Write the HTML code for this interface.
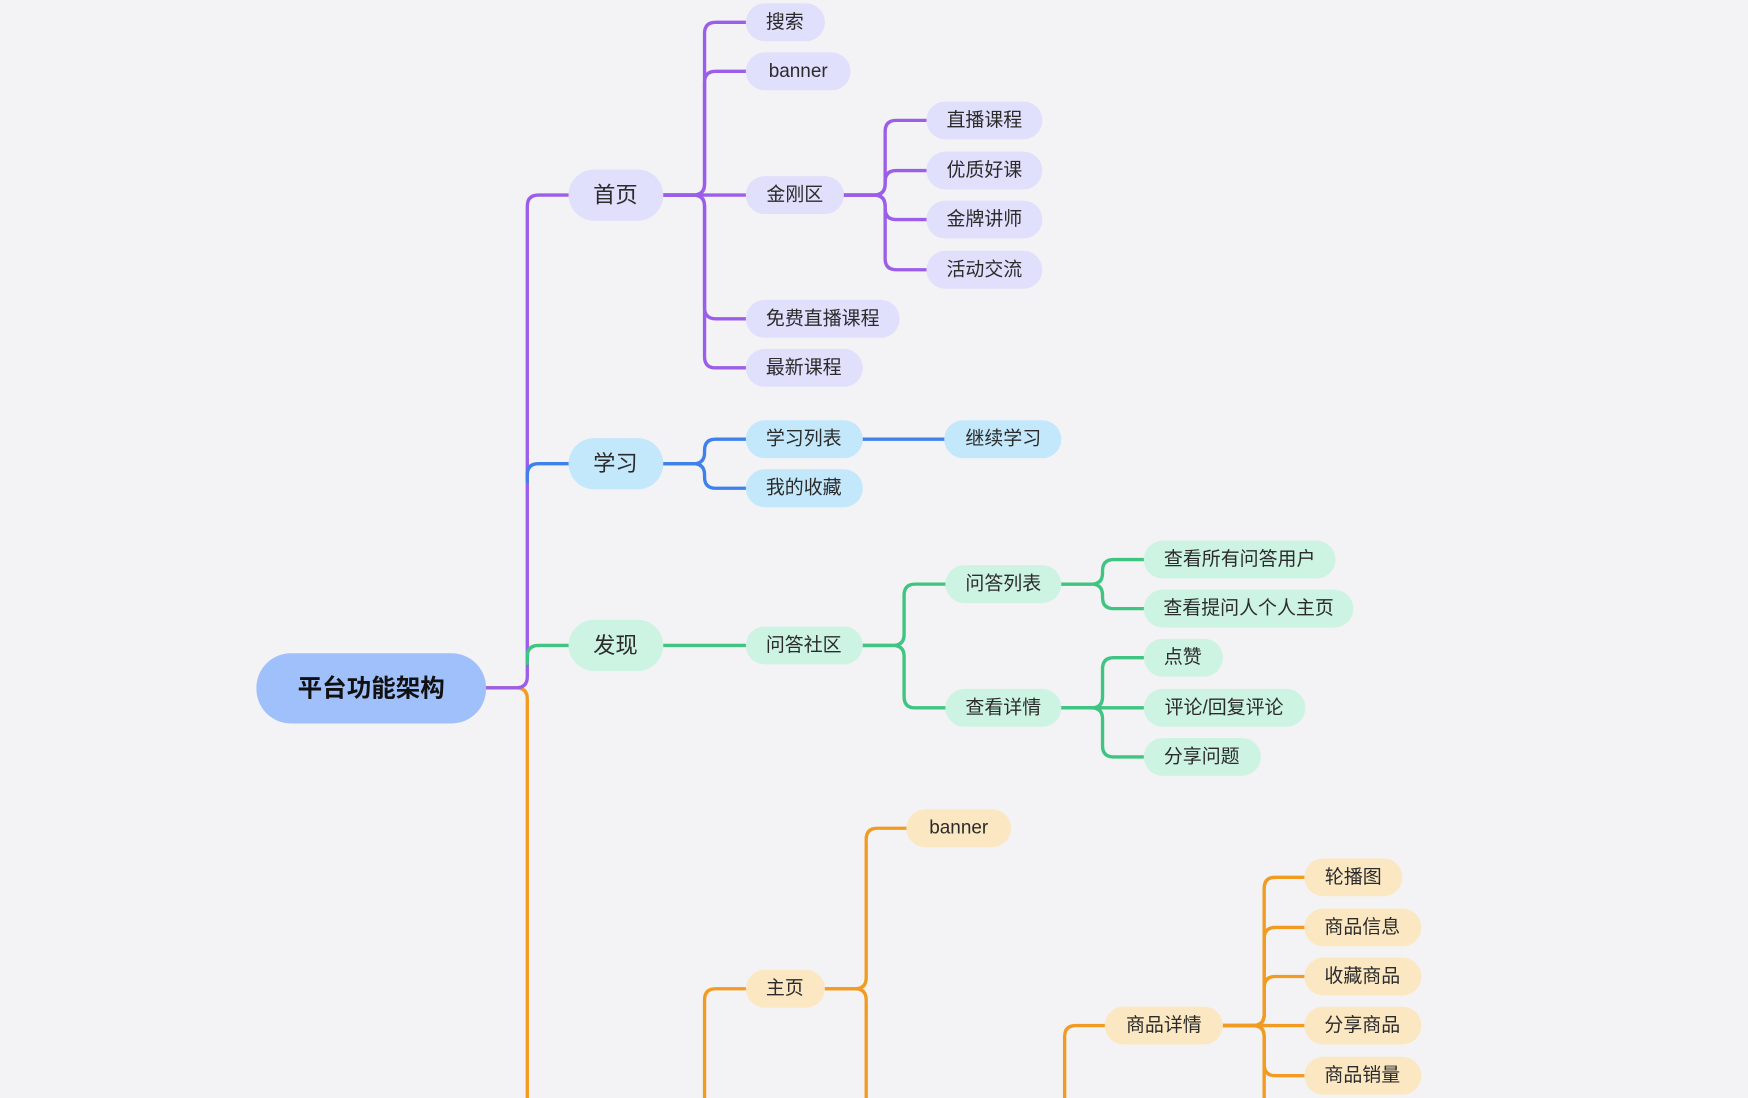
<!DOCTYPE html>
<html><head><meta charset="utf-8"><style>
html,body{margin:0;padding:0;background:#f3f3f5;width:1748px;height:1098px;overflow:hidden}
svg{display:block}
text{font-family:"Liberation Sans","Noto Sans CJK SC",sans-serif;fill:#2b2b2b;dominant-baseline:central;text-anchor:middle}
.l2{font-size:17px}
.l1{font-size:20px}
path{fill:none;stroke-width:3;stroke-linecap:round}
.p{stroke:#9b5ee8}.b{stroke:#3f80ea}.g{stroke:#3fc482}.o{stroke:#f29b22}
</style></head><body>
<svg width="1748" height="1098" viewBox="0 0 1568 985" preserveAspectRatio="none">
<!-- connectors -->
<path class="o" d="M436 617 H463 Q473 617 473 627 V985"/>
<path class="p" d="M436 617 H463 Q473 617 473 607 V185 Q473 175 483 175 H510"/>
<path class="b" d="M473 432 V426 Q473 416 483 416 H510"/>
<path class="g" d="M473 595 V589 Q473 579 483 579 H510"/>

<path class="p" d="M595 175 H622 Q632 175 632 165 V30 Q632 20 642 20 H669"/>
<path class="p" d="M595 175 H622 Q632 175 632 165 V74 Q632 64 642 64 H669"/>
<path class="p" d="M595 175 H669"/>
<path class="p" d="M595 175 H622 Q632 175 632 185 V276 Q632 286 642 286 H669"/>
<path class="p" d="M595 175 H622 Q632 175 632 185 V320 Q632 330 642 330 H669"/>
<path class="p" d="M757 175 H784 Q794 175 794 165 V118 Q794 108 804 108 H831"/>
<path class="p" d="M757 175 H784 Q794 175 794 165 V163 Q794 153 804 153 H831"/>
<path class="p" d="M757 175 H784 Q794 175 794 185 V187 Q794 197 804 197 H831"/>
<path class="p" d="M757 175 H784 Q794 175 794 185 V232 Q794 242 804 242 H831"/>

<path class="b" d="M595 416 H622 Q632 416 632 406 V404 Q632 394 642 394 H669"/>
<path class="b" d="M595 416 H622 Q632 416 632 426 V428 Q632 438 642 438 H669"/>
<path class="b" d="M774 394 H847"/>

<path class="g" d="M595 579 H669"/>
<path class="g" d="M774 579 H801 Q811 579 811 569 V534 Q811 524 821 524 H848"/>
<path class="g" d="M774 579 H801 Q811 579 811 589 V625 Q811 635 821 635 H848"/>
<path class="g" d="M952 524 H979 Q989 524 989 514 V512 Q989 502 999 502 H1026"/>
<path class="g" d="M952 524 H979 Q989 524 989 534 V536 Q989 546 999 546 H1026"/>
<path class="g" d="M952 635 H979 Q989 635 989 625 V600 Q989 590 999 590 H1026"/>
<path class="g" d="M952 635 H1026"/>
<path class="g" d="M952 635 H979 Q989 635 989 645 V669 Q989 679 999 679 H1026"/>

<path class="o" d="M632 985 V897 Q632 887 642 887 H669"/>
<path class="o" d="M740 887 H767 Q777 887 777 877 V753 Q777 743 787 743 H813"/>
<path class="o" d="M740 887 H767 Q777 887 777 897 V985"/>
<path class="o" d="M955 985 V930 Q955 920 965 920 H991"/>
<path class="o" d="M1097 920 H1124 Q1134 920 1134 910 V797 Q1134 787 1144 787 H1170"/>
<path class="o" d="M1097 920 H1124 Q1134 920 1134 910 V842 Q1134 832 1144 832 H1170"/>
<path class="o" d="M1097 920 H1124 Q1134 920 1134 910 V886 Q1134 876 1144 876 H1170"/>
<path class="o" d="M1097 920 H1170"/>
<path class="o" d="M1097 920 H1124 Q1134 920 1134 930 V955 Q1134 965 1144 965 H1170"/>
<path class="o" d="M1097 920 H1124 Q1134 920 1134 930 V985"/>

<!-- root -->
<rect x="230" y="586" width="206" height="63" rx="31" fill="#a0c0fb"/>
<text x="333" y="618" style="font-size:22px;font-weight:bold;fill:#111">平台功能架构</text>

<!-- level1 -->
<g fill="#e0dffc"><rect x="510" y="152" width="85" height="46" rx="23"/></g>
<text class="l1" x="552" y="175">首页</text>
<rect x="510" y="393" width="85" height="46" rx="23" fill="#c3e8fb"/>
<text class="l1" x="552" y="416">学习</text>
<rect x="510" y="556" width="85" height="46" rx="23" fill="#cdf3e3"/>
<text class="l1" x="552" y="579">发现</text>

<!-- purple nodes -->
<g fill="#e0dffc">
<rect x="669" y="3" width="71" height="34" rx="17"/>
<rect x="669" y="47" width="94" height="34" rx="17"/>
<rect x="669" y="158" width="88" height="34" rx="17"/>
<rect x="669" y="269" width="138" height="34" rx="17"/>
<rect x="669" y="313" width="105" height="34" rx="17"/>
<rect x="831" y="91" width="104" height="34" rx="17"/>
<rect x="831" y="136" width="104" height="34" rx="17"/>
<rect x="831" y="180" width="104" height="34" rx="17"/>
<rect x="831" y="225" width="104" height="34" rx="17"/>
</g>
<text class="l2" x="704" y="20">搜索</text>
<text class="l2" x="716" y="64">banner</text>
<text class="l2" x="713" y="175">金刚区</text>
<text class="l2" x="738" y="286">免费直播课程</text>
<text class="l2" x="721" y="330">最新课程</text>
<text class="l2" x="883" y="108">直播课程</text>
<text class="l2" x="883" y="153">优质好课</text>
<text class="l2" x="883" y="197">金牌讲师</text>
<text class="l2" x="883" y="242">活动交流</text>

<!-- blue nodes -->
<g fill="#c3e8fb">
<rect x="669" y="377" width="105" height="34" rx="17"/>
<rect x="669" y="421" width="105" height="34" rx="17"/>
<rect x="847" y="377" width="105" height="34" rx="17"/>
</g>
<text class="l2" x="721" y="394">学习列表</text>
<text class="l2" x="721" y="438">我的收藏</text>
<text class="l2" x="900" y="394">继续学习</text>

<!-- green nodes -->
<g fill="#cdf3e3">
<rect x="669" y="562" width="105" height="34" rx="17"/>
<rect x="848" y="507" width="104" height="34" rx="17"/>
<rect x="848" y="618" width="104" height="34" rx="17"/>
<rect x="1026" y="485" width="172" height="34" rx="17"/>
<rect x="1026" y="529" width="188" height="34" rx="17"/>
<rect x="1026" y="573" width="71" height="34" rx="17"/>
<rect x="1026" y="618" width="145" height="34" rx="17"/>
<rect x="1026" y="662" width="105" height="34" rx="17"/>
</g>
<text class="l2" x="721" y="579">问答社区</text>
<text class="l2" x="900" y="524">问答列表</text>
<text class="l2" x="900" y="635">查看详情</text>
<text class="l2" x="1112" y="502">查看所有问答用户</text>
<text class="l2" x="1120" y="546">查看提问人个人主页</text>
<text class="l2" x="1061" y="590">点赞</text>
<text class="l2" x="1098" y="635">评论/回复评论</text>
<text class="l2" x="1078" y="679">分享问题</text>

<!-- orange nodes -->
<g fill="#fbe8c3">
<rect x="813" y="726" width="94" height="34" rx="17"/>
<rect x="669" y="870" width="71" height="34" rx="17"/>
<rect x="991" y="903" width="106" height="34" rx="17"/>
<rect x="1170" y="770" width="88" height="34" rx="17"/>
<rect x="1170" y="815" width="105" height="34" rx="17"/>
<rect x="1170" y="859" width="105" height="34" rx="17"/>
<rect x="1170" y="903" width="105" height="34" rx="17"/>
<rect x="1170" y="948" width="105" height="34" rx="17"/>
</g>
<text class="l2" x="860" y="743">banner</text>
<text class="l2" x="704" y="887">主页</text>
<text class="l2" x="1044" y="920">商品详情</text>
<text class="l2" x="1214" y="787">轮播图</text>
<text class="l2" x="1222" y="832">商品信息</text>
<text class="l2" x="1222" y="876">收藏商品</text>
<text class="l2" x="1222" y="920">分享商品</text>
<text class="l2" x="1222" y="965">商品销量</text>
</svg>
</body></html>
